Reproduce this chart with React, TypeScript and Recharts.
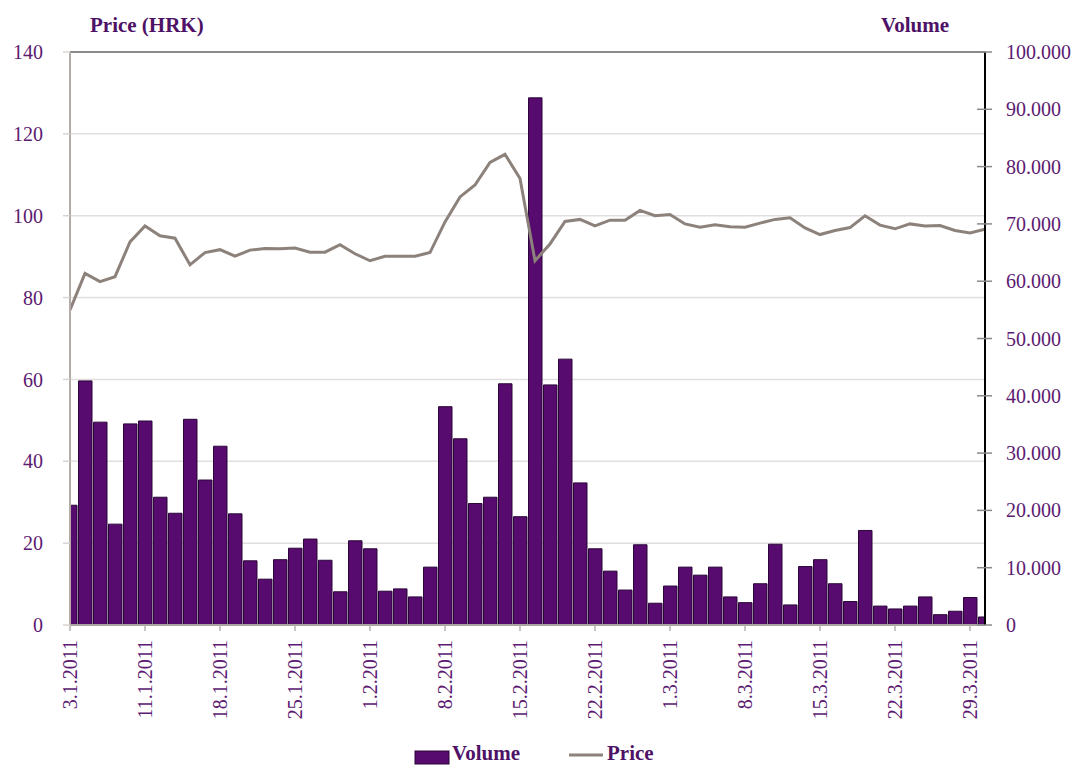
import React from "react";
import {
  ComposedChart,
  Bar,
  Line,
  XAxis,
  YAxis,
  CartesianGrid,
  ReferenceLine,
  Legend,
} from "recharts";

const DATES = [
  "3.1.2011", "4.1.2011", "5.1.2011", "7.1.2011", "10.1.2011",
  "11.1.2011", "12.1.2011", "13.1.2011", "14.1.2011", "17.1.2011",
  "18.1.2011", "19.1.2011", "20.1.2011", "21.1.2011", "24.1.2011",
  "25.1.2011", "26.1.2011", "27.1.2011", "28.1.2011", "31.1.2011",
  "1.2.2011", "2.2.2011", "3.2.2011", "4.2.2011", "7.2.2011",
  "8.2.2011", "9.2.2011", "10.2.2011", "11.2.2011", "14.2.2011",
  "15.2.2011", "16.2.2011", "17.2.2011", "18.2.2011", "21.2.2011",
  "22.2.2011", "23.2.2011", "24.2.2011", "25.2.2011", "28.2.2011",
  "1.3.2011", "2.3.2011", "3.3.2011", "4.3.2011", "7.3.2011",
  "8.3.2011", "9.3.2011", "10.3.2011", "11.3.2011", "14.3.2011",
  "15.3.2011", "16.3.2011", "17.3.2011", "18.3.2011", "21.3.2011",
  "22.3.2011", "23.3.2011", "24.3.2011", "25.3.2011", "28.3.2011",
  "29.3.2011", "30.3.2011",
];

const VOLUME = [
  20900, 42600, 35400, 17600, 35100, 35600, 22300, 19500, 35900, 25300,
  31200, 19400, 11200, 8000, 11400, 13400, 15000, 11300, 5800, 14700,
  13300, 5900, 6300, 4900, 10100, 38100, 32500, 21200, 22300, 42100,
  18900, 92000, 41900, 46400, 24800, 13300, 9400, 6100, 14000, 3800,
  6800, 10100, 8700, 10100, 4900, 3900, 7200, 14100, 3500, 10200,
  11400, 7200, 4100, 16500, 3300, 2800, 3300, 4900, 1800, 2400,
  4800, 1400,
];

const PRICE = [
  77.0, 85.9, 83.9, 85.1, 93.6, 97.5, 95.1, 94.5, 88.0, 91.0,
  91.7, 90.1, 91.6, 92.0, 91.9, 92.1, 91.1, 91.1, 92.9, 90.7,
  89.0, 90.1, 90.1, 90.1, 91.0, 98.5, 104.6, 107.5, 113.0, 115.0,
  109.1, 89.0, 93.1, 98.6, 99.1, 97.5, 98.9, 98.9, 101.3, 100.0,
  100.3, 98.0, 97.2, 97.8, 97.3, 97.2, 98.2, 99.1, 99.5, 97.0,
  95.4, 96.4, 97.1, 100.0, 97.7, 96.8, 98.0, 97.5, 97.6, 96.4,
  95.8, 96.7,
];

const X_TICKS = [0, 5, 10, 15, 20, 25, 30, 35, 40, 45, 50, 55, 60];
const PRICE_TICKS = [0, 20, 40, 60, 80, 100, 120, 140];
const VOLUME_TICKS = [0, 10000, 20000, 30000, 40000, 50000, 60000, 70000, 80000, 90000, 100000];

const data = DATES.map((d, i) => ({ idx: i, date: d, volume: VOLUME[i], price: PRICE[i] }));

const FONT = "'Liberation Serif', 'Times New Roman', serif";
const TEXT = "#5c1a72";
const TITLE = "#4e1266";
const BAR_FILL = "#570b6e";
const BAR_STROKE = "#2a0738";
const LINE_COLOR = "#8c827b";

const fmtVolume = (v: number) => (v === 0 ? "0" : `${Math.round(v / 1000)}.000`);

const XTick = (props: any) => {
  const { x, y, payload } = props;
  return (
    <text
      x={x}
      y={y}
      transform={`rotate(-90, ${x}, ${y})`}
      textAnchor="end"
      dy="0.33em"
      fill={TEXT}
      fontSize={20}
      fontFamily={FONT}
    >
      {DATES[payload.value]}
    </text>
  );
};

const RightTick = (props: any) => {
  const { x, y, payload } = props;
  return (
    <g>
      <line x1={x - 8} x2={x + 7} y1={y} y2={y} stroke="#8a8a8a" strokeWidth={1.5} />
      <text x={x + 21} y={y} dy="0.35em" textAnchor="start" fill={TEXT} fontSize={20} fontFamily={FONT}>
        {fmtVolume(payload.value)}
      </text>
    </g>
  );
};

const renderLegend = (props: any) => {
  const payload = props.payload || [];
  const vol = payload.find((p: any) => p.value === "Volume") || { color: BAR_FILL };
  const pr = payload.find((p: any) => p.value === "Price") || { color: LINE_COLOR };
  return (
    <svg width={1074} height={24} style={{ display: "block" }}>
      <rect x={415} y={10} width={34} height={13} fill={vol.color} stroke={BAR_STROKE} strokeWidth={1} />
      <text x={452} y={19} fill={TITLE} fontSize={21} fontWeight="bold" fontFamily={FONT}>
        Volume
      </text>
      <line x1={569} x2={603} y1={14} y2={14} stroke={pr.color} strokeWidth={3} />
      <text x={607} y={19} fill={TITLE} fontSize={21} fontWeight="bold" fontFamily={FONT}>
        Price
      </text>
    </svg>
  );
};

export default function App() {
  return (
    <div style={{ position: "absolute", left: 0, top: 0, width: 1074, height: 765, background: "#fff" }}>
      <ComposedChart
        width={1074}
        height={765}
        data={data}
        margin={{ top: 52, right: 0, bottom: 0, left: 0 }}
      >
        <CartesianGrid yAxisId="left" vertical={false} stroke="#e2dede" strokeWidth={1.5} />
        <XAxis
          dataKey="idx"
          type="number"
          domain={[0, 61]}
          allowDataOverflow
          ticks={X_TICKS}
          interval={0}
          height={140}
          tickSize={6}
          tickMargin={9}
          tick={<XTick />}
          axisLine={{ stroke: "#aaa5a2", strokeWidth: 2 }}
          tickLine={{ stroke: "#b5b0ae", strokeWidth: 1.5 }}
        />
        <YAxis
          yAxisId="left"
          orientation="left"
          domain={[0, 140]}
          ticks={PRICE_TICKS}
          interval={0}
          width={70}
          tickSize={7}
          tickMargin={20}
          tick={{ fill: TEXT, fontSize: 20, fontFamily: FONT }}
          axisLine={{ stroke: "#b3aca6", strokeWidth: 2 }}
          tickLine={{ stroke: "#d8d4d2", strokeWidth: 1.5 }}
        />
        <YAxis
          yAxisId="right"
          orientation="right"
          domain={[0, 100000]}
          ticks={VOLUME_TICKS}
          interval={0}
          width={89}
          tickSize={0}
          tickMargin={0}
          tick={<RightTick />}
          tickLine={false}
          axisLine={{ stroke: "#000", strokeWidth: 2 }}
        />
        <ReferenceLine yAxisId="left" y={140} stroke="#8c8c8c" strokeWidth={2} />
        <Bar
          yAxisId="right"
          dataKey="volume"
          name="Volume"
          fill={BAR_FILL}
          stroke={BAR_STROKE}
          strokeWidth={1}
          barSize={15}
          isAnimationActive={false}
        />
        <Line
          yAxisId="left"
          dataKey="price"
          name="Price"
          type="linear"
          stroke={LINE_COLOR}
          strokeWidth={3}
          dot={false}
          activeDot={false}
          isAnimationActive={false}
        />
        <Legend
          layout="vertical"
          align="center"
          verticalAlign="middle"
          content={renderLegend}
          wrapperStyle={{ position: "absolute", left: 0, top: 741, width: 1074, height: 24 }}
        />
      </ComposedChart>
      <svg
        width={1074}
        height={50}
        style={{ position: "absolute", left: 0, top: 0, pointerEvents: "none" }}
      >
        <text x={90} y={32} fill={TITLE} fontSize={21} fontWeight="bold" fontFamily={FONT}>
          Price (HRK)
        </text>
        <text x={881} y={32} fill={TITLE} fontSize={21} fontWeight="bold" fontFamily={FONT}>
          Volume
        </text>
      </svg>
    </div>
  );
}
